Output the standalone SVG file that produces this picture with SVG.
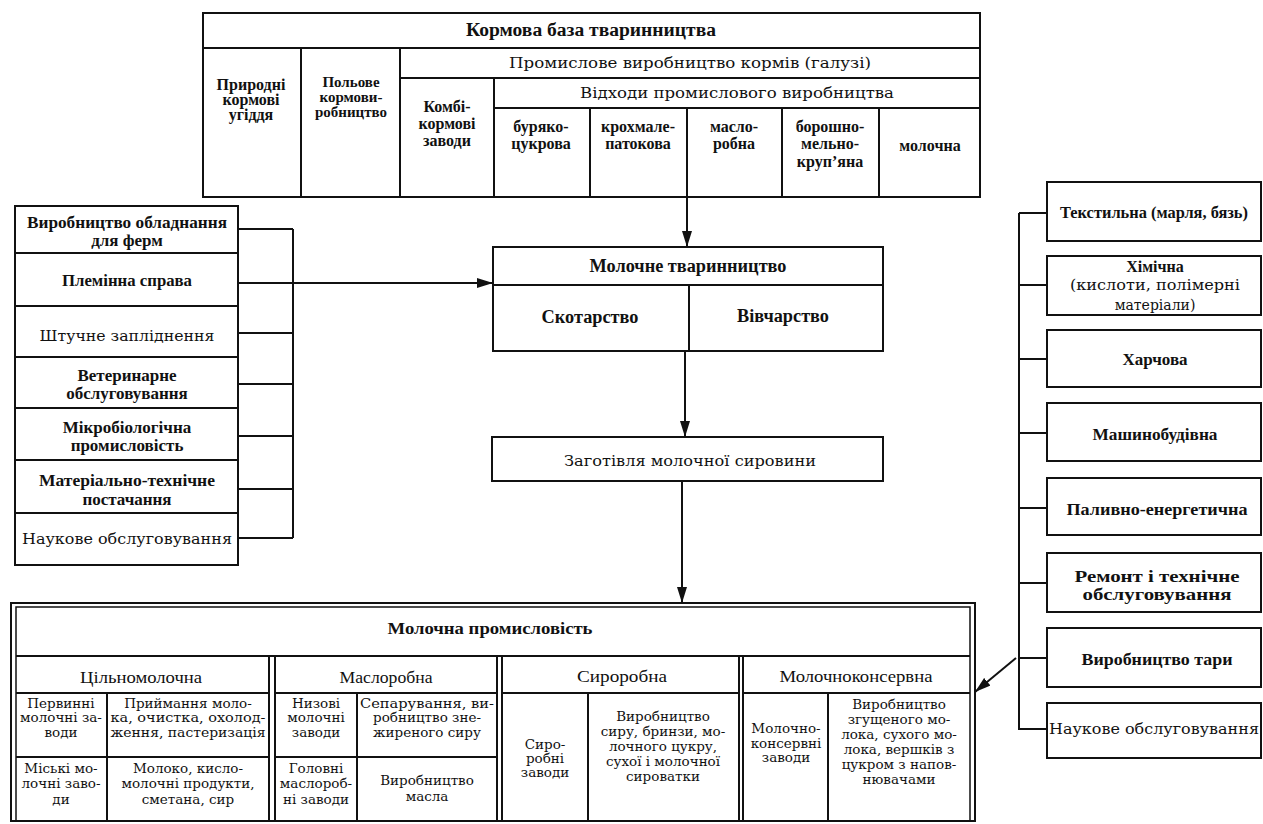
<svg xmlns="http://www.w3.org/2000/svg" width="1263" height="824" viewBox="0 0 1263 824">
<defs>
<style>
.bx{fill:#fff;stroke:#111;stroke-width:2}
.ln{fill:none;stroke:#111;stroke-width:2}
.th{fill:none;stroke:#111;stroke-width:1.5}
.cn{fill:none;stroke:#111;stroke-width:2}
text{fill:#111;text-anchor:middle}
.b{font-family:"Liberation Serif","Times New Roman",serif;font-weight:bold}
.r{font-family:"Liberation Serif","Times New Roman",serif}
.w{font-family:"DejaVu Serif","Liberation Serif",serif}
.s15{font-size:15px}.s16{font-size:16px}.s17{font-size:17px}.s18{font-size:18px}
.c{font-size:13.5px}
</style>
<marker id="ah" markerWidth="16" markerHeight="10" refX="16" refY="5" orient="auto" markerUnits="userSpaceOnUse"><path d="M0,0 L16,5 L0,10 Z" fill="#111"/></marker>
</defs>
<rect x="0" y="0" width="1263" height="824" fill="#fff"/>

<g id="kormova-baza">
<rect class="bx" x="203" y="13" width="777" height="184"/>
<path class="ln" d="M203,48H980M301,48V197M400,48V197M400,78H980M494,78V197M494,108H980M590,108V197M687,108V197M782,108V197M879,108V197"/>
<text class="b s18" x="591" y="36" textLength="250" lengthAdjust="spacingAndGlyphs">Кормова база тваринництва</text>
<text class="w" style="font-size:15.5px" x="690" y="68" textLength="362" lengthAdjust="spacingAndGlyphs">Промислове виробництво кормів (галузі)</text>
<text class="w" style="font-size:15.5px" x="737" y="98" textLength="314" lengthAdjust="spacingAndGlyphs">Відходи промислового виробництва</text>
<text class="b s16" x="251" y="90">Природні</text>
<text class="b s16" x="251" y="105">кормові</text>
<text class="b s16" x="251" y="120">угіддя</text>
<text class="b s15" x="351" y="87">Польове</text>
<text class="b s15" x="351" y="102">кормови-</text>
<text class="b s15" x="351" y="117">робництво</text>
<text class="b s16" x="447" y="112">Комбі-</text>
<text class="b s16" x="447" y="129">кормові</text>
<text class="b s16" x="447" y="146">заводи</text>
<text class="b s16" x="541" y="132">буряко-</text>
<text class="b s16" x="541" y="149">цукрова</text>
<text class="b s16" x="638" y="132">крохмале-</text>
<text class="b s16" x="638" y="149">патокова</text>
<text class="b s16" x="734" y="132">масло-</text>
<text class="b s16" x="734" y="149">робна</text>
<text class="b s16" x="830" y="132">борошно-</text>
<text class="b s16" x="830" y="149">мельно-</text>
<text class="b s16" x="830" y="167">круп’яна</text>
<text class="b s16" x="930" y="151">молочна</text>
</g>

<g id="molochne-tvarynnytstvo">
<rect class="bx" x="493" y="247" width="390" height="104"/>
<path class="ln" d="M493,285H883M689,285V351"/>
<text class="b s18" x="688" y="272" textLength="197" lengthAdjust="spacingAndGlyphs">Молочне тваринництво</text>
<text class="b s18" x="590" y="323" textLength="97" lengthAdjust="spacingAndGlyphs">Скотарство</text>
<text class="b s18" x="783" y="322" textLength="92" lengthAdjust="spacingAndGlyphs">Вівчарство</text>
</g>

<g id="zagotivlia">
<rect class="bx" x="492" y="437" width="391" height="44"/>
<text class="w" style="font-size:15px" x="690" y="466" textLength="252" lengthAdjust="spacingAndGlyphs">Заготівля молочної сировини</text>
</g>

<g id="left-1"><rect class="bx" x="15" y="206" width="223" height="47"/>
<text class="b s17" x="127" y="228" textLength="200" lengthAdjust="spacingAndGlyphs">Виробництво обладнання</text>
<text class="b s17" x="127" y="246">для ферм</text></g>
<g id="left-2"><rect class="bx" x="15" y="253" width="223" height="53"/>
<text class="b s17" x="127" y="286" textLength="130" lengthAdjust="spacingAndGlyphs">Племінна справа</text></g>
<g id="left-3"><rect class="bx" x="15" y="306" width="223" height="51"/>
<text class="w" style="font-size:15px" x="127" y="341" textLength="175" lengthAdjust="spacingAndGlyphs">Штучне запліднення</text></g>
<g id="left-4"><rect class="bx" x="15" y="357" width="223" height="51"/>
<text class="b s17" x="127" y="381">Ветеринарне</text>
<text class="b s17" x="127" y="399">обслуговування</text></g>
<g id="left-5"><rect class="bx" x="15" y="408" width="223" height="52"/>
<text class="b s17" x="127" y="433">Мікробіологічна</text>
<text class="b s17" x="127" y="451">промисловість</text></g>
<g id="left-6"><rect class="bx" x="15" y="460" width="223" height="53"/>
<text class="b s17" x="127" y="486" textLength="176" lengthAdjust="spacingAndGlyphs">Матеріально-технічне</text>
<text class="b s17" x="127" y="505">постачання</text></g>
<g id="left-7"><rect class="bx" x="15" y="513" width="223" height="52"/>
<text class="w" style="font-size:15.5px" x="127" y="544" textLength="210" lengthAdjust="spacingAndGlyphs">Наукове обслуговування</text></g>

<g id="right-1"><rect class="bx" x="1047" y="182" width="214" height="59"/>
<text class="b s17" x="1154" y="218" textLength="188" lengthAdjust="spacingAndGlyphs">Текстильна (марля, бязь)</text></g>
<g id="right-2"><rect class="bx" x="1047" y="256" width="214" height="59"/>
<text class="b s16" x="1155" y="272">Хімічна</text>
<text class="w" style="font-size:14px" x="1155" y="290" textLength="170" lengthAdjust="spacingAndGlyphs">(кислоти, полімерні</text>
<text class="w" style="font-size:14px" x="1155" y="310">матеріали)</text></g>
<g id="right-3"><rect class="bx" x="1047" y="330" width="214" height="57"/>
<text class="b s17" x="1155" y="365">Харчова</text></g>
<g id="right-4"><rect class="bx" x="1047" y="403" width="214" height="58"/>
<text class="b s17" x="1155" y="440" textLength="125" lengthAdjust="spacingAndGlyphs">Машинобудівна</text></g>
<g id="right-5"><rect class="bx" x="1047" y="478" width="214" height="57"/>
<text class="b s17" x="1157" y="515" textLength="181" lengthAdjust="spacingAndGlyphs">Паливно-енергетична</text></g>
<g id="right-6"><rect class="bx" x="1047" y="553" width="214" height="59"/>
<text class="b s17" x="1157" y="582" textLength="165" lengthAdjust="spacingAndGlyphs">Ремонт і технічне</text>
<text class="b s17" x="1157" y="600" textLength="149" lengthAdjust="spacingAndGlyphs">обслуговування</text></g>
<g id="right-7"><rect class="bx" x="1047" y="628" width="214" height="59"/>
<text class="b s17" x="1157" y="665" textLength="151" lengthAdjust="spacingAndGlyphs">Виробництво тари</text></g>
<g id="right-8"><rect class="bx" x="1047" y="703" width="214" height="55"/>
<text class="w" style="font-size:15.5px" x="1154" y="734" textLength="210" lengthAdjust="spacingAndGlyphs">Наукове обслуговування</text></g>

<g id="molochna-promyslovist">
<rect class="bx" x="11" y="603" width="964" height="218"/>
<rect class="th" x="16" y="607" width="954" height="214"/>
<path class="ln" d="M16,656H970"/>
<path class="ln" d="M269,656V821M275,656V821M497,656V821M502,656V821M739,656V821M743,656V821"/>
<path class="ln" d="M16,693H269M275,693H497M502,693H739M743,693H970"/>
<path class="ln" d="M16,757H269M275,757H497"/>
<path class="ln" d="M107,693V821M357,693V821M588,693V821M828,693V821"/>
<text class="b s17" x="490" y="634" textLength="205" lengthAdjust="spacingAndGlyphs">Молочна промисловість</text>
<text class="r s17" x="141" y="683" textLength="122" lengthAdjust="spacingAndGlyphs">Цільномолочна</text>
<text class="r s17" x="386" y="683" textLength="93" lengthAdjust="spacingAndGlyphs">Маслоробна</text>
<text class="r s17" x="622" y="682" textLength="90" lengthAdjust="spacingAndGlyphs">Сироробна</text>
<text class="r s17" x="856" y="682" textLength="153" lengthAdjust="spacingAndGlyphs">Молочноконсервна</text>

<text class="w c" x="61" y="708">Первинні</text>
<text class="w c" x="61" y="722">молочні за-</text>
<text class="w c" x="61" y="737">води</text>
<text class="w c" x="188" y="708">Приймання моло-</text>
<text class="w c" x="188" y="722" textLength="155" lengthAdjust="spacingAndGlyphs">ка, очистка, охолод-</text>
<text class="w c" x="188" y="737" textLength="155" lengthAdjust="spacingAndGlyphs">ження, пастеризація</text>
<text class="w c" x="61" y="773">Міські мо-</text>
<text class="w c" x="61" y="788">лочні заво-</text>
<text class="w c" x="61" y="804">ди</text>
<text class="w c" x="188" y="773">Молоко, кисло-</text>
<text class="w c" x="188" y="788">молочні продукти,</text>
<text class="w c" x="188" y="804">сметана, сир</text>

<text class="w c" x="316" y="708">Низові</text>
<text class="w c" x="316" y="722">молочні</text>
<text class="w c" x="316" y="737">заводи</text>
<text class="w c" x="427" y="708" textLength="134" lengthAdjust="spacingAndGlyphs">Сепарування, ви-</text>
<text class="w c" x="427" y="722">робництво зне-</text>
<text class="w c" x="427" y="737">жиреного сиру</text>
<text class="w c" x="316" y="773">Головні</text>
<text class="w c" x="316" y="788">маслороб-</text>
<text class="w c" x="316" y="804">ні заводи</text>
<text class="w c" x="427" y="785">Виробництво</text>
<text class="w c" x="427" y="801">масла</text>

<text class="w c" x="545" y="749">Сиро-</text>
<text class="w c" x="545" y="763">робні</text>
<text class="w c" x="545" y="777">заводи</text>
<text class="w c" x="663" y="721">Виробництво</text>
<text class="w c" x="663" y="736">сиру, бринзи, мо-</text>
<text class="w c" x="663" y="751">лочного цукру,</text>
<text class="w c" x="663" y="766">сухої і молочної</text>
<text class="w c" x="663" y="781">сироватки</text>

<text class="w c" x="786" y="733">Молочно-</text>
<text class="w c" x="786" y="748">консервні</text>
<text class="w c" x="786" y="762">заводи</text>
<text class="w c" x="899" y="709">Виробництво</text>
<text class="w c" x="899" y="724">згущеного мо-</text>
<text class="w c" x="899" y="739">лока, сухого мо-</text>
<text class="w c" x="899" y="754">лока, вершків з</text>
<text class="w c" x="899" y="769">цукром з напов-</text>
<text class="w c" x="899" y="784">нювачами</text>
</g>

<g id="connectors">
<path class="cn" d="M238,229H293M238,283H293M238,333H293M238,384H293M238,436H293M238,489H293M238,538H293M293,229V538"/>
<path class="cn" d="M293,283H493" marker-end="url(#ah)"/>
<path class="cn" d="M1019,213V729H1047M1019,213H1047M1019,285H1047M1019,359H1047M1019,433H1047M1019,508H1047M1019,583H1047M1019,658H1047"/>
<path class="cn" d="M1016,658L975,692" marker-end="url(#ah)"/>
<path class="cn" d="M687,197V247" marker-end="url(#ah)"/>
<path class="cn" d="M685,351V437" marker-end="url(#ah)"/>
<path class="cn" d="M682,481V603" marker-end="url(#ah)"/>
</g>
</svg>
